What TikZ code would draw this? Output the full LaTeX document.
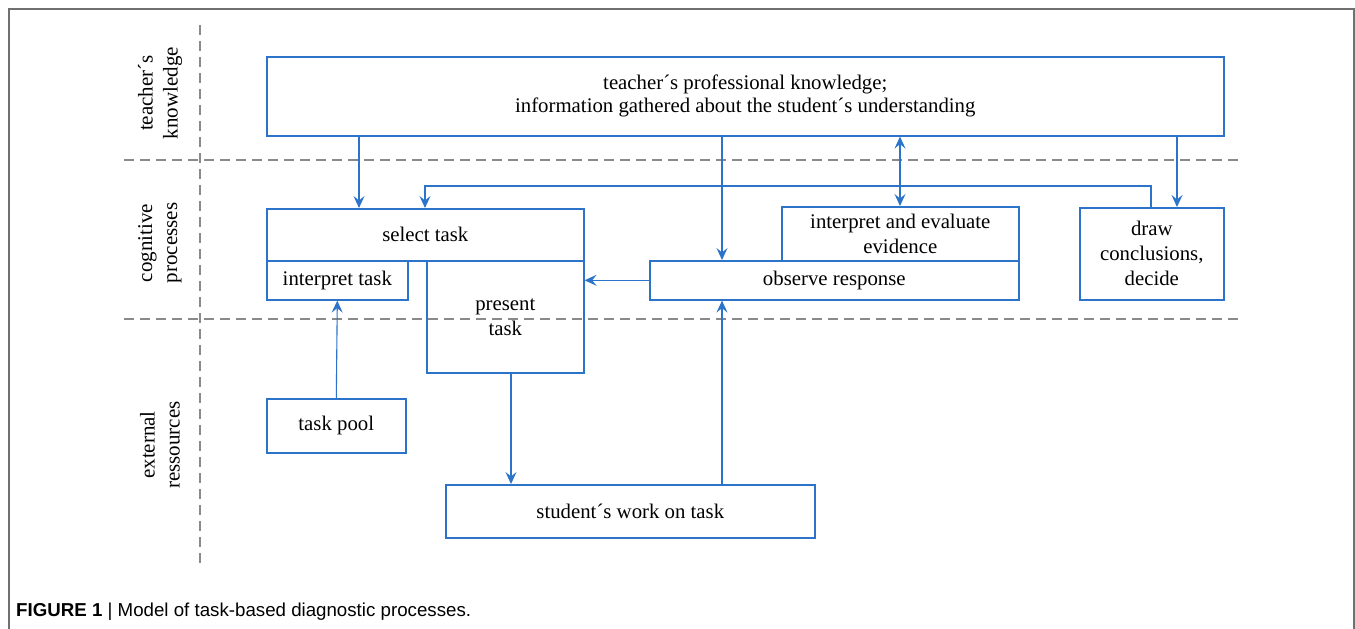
\documentclass[tikz,border=0pt]{standalone}
\usepackage{fontspec}
\setmainfont{Liberation Serif}
\newfontfamily\capfont{Liberation Sans}
\usepackage{tikz}
\usetikzlibrary{arrows.meta,positioning,calc}
\definecolor{boxcol}{HTML}{2B74C9}
\definecolor{lanecol}{HTML}{8A8A8A}
\definecolor{framecol}{HTML}{707070}

\tikzset{
  procbox/.style={draw=boxcol, line width=1.6pt, inner sep=0pt, align=center,
    anchor=north west, font=\fontsize{20.8}{25}\selectfont},
  flow/.style={-{Stealth[length=12pt,width=11pt,inset=4.5pt]}, boxcol, line width=1.1pt},
  laneline/.style={lanecol, line width=1.3pt, dash pattern=on 10pt off 6pt},
  lanelabel/.style={rotate=90, align=center, font=\fontsize{21}{25}\selectfont}
}

\begin{document}
\begin{tikzpicture}[x=1pt, y=-1pt]
\useasboundingbox (0,0) rectangle (1355,629);

% ------------------------------------------------------------ frame
\draw[framecol, line width=1.4pt] (9,640) -- (9,9) -- (1354,9) -- (1354,640);

% ------------------------------------------------------------ lanes
\draw[laneline] (200,25) -- (200,567);
\draw[laneline] (124,160) -- (1240,160);
\draw[laneline] (124,319) -- (1240,319);
\node[lanelabel] (lknow) at (160,93) {teacher´s\\knowledge};
\node[lanelabel] (lcogn) at (160,243) {cognitive\\processes};
\node[lanelabel] (lext)  at (160,445) {external\\ressources};

% ------------------------------------------------------------ boxes
\node[procbox, minimum width=957pt, minimum height=79pt,
  font=\fontsize{20.8}{23}\selectfont] (know) at (266,56)
  {teacher´s professional knowledge;\\information gathered about the student´s understanding};
\node[procbox, minimum width=317pt, minimum height=52pt] (sel) at (266,208) {select task};
\node[procbox, minimum width=141pt, minimum height=39pt] (interp) at (266,260) {interpret task};
\node[procbox, minimum width=157pt, minimum height=112pt] (pres) at (426,260) {present\\task};
\node[procbox, minimum width=369pt, minimum height=39pt] (obs) at (649,260) {observe response};
\node[procbox, minimum width=237pt, minimum height=54pt] (evid) at (781,206)
  {interpret and evaluate\\evidence};
\node[procbox, minimum width=144pt, minimum height=92pt] (concl) at (1079,207)
  {draw\\conclusions,\\decide};
\node[procbox, minimum width=139pt, minimum height=54pt] (pool) at (266,398) {task pool};
\node[procbox, minimum width=369pt, minimum height=53pt] (stud) at (445,484) {student´s work on task};

% ------------------------------------------------------------ connectors
\draw[flow] ([xshift=93pt]know.south west) -- ([xshift=93pt]sel.north west);
\draw[flow] ([xshift=456pt]know.south west) -- ([xshift=73pt]obs.north west);
\draw[flow, {Stealth[length=12pt,width=11pt,inset=4.5pt]}-{Stealth[length=12pt,width=11pt,inset=4.5pt]}]
  ([xshift=634pt]know.south west) -- ([xshift=119pt]evid.north west);
\draw[flow] ([xshift=911pt]know.south west) -- ([xshift=98pt]concl.north west);
\draw[flow] ([xshift=72pt]concl.north west) |- ([xshift=159pt,yshift=22pt]sel.north west)
  -- ([xshift=159pt]sel.north west);
\draw[flow] (obs.west) -- (obs.west -| pres.east);
\draw[flow] (pool.north) -- (interp.south);
\draw[flow] ([xshift=85pt]pres.south west) -- ([xshift=85pt]pres.south west |- stud.north);
\draw[flow] ([xshift=277pt]stud.north west) -- ([xshift=277pt]stud.north west |- obs.south);

% ------------------------------------------------------------ caption
\node[anchor=base west, inner sep=0pt, font=\capfont\fontsize{18.7}{22}\selectfont] (cap) at (16,616)
  {\textbf{FIGURE 1} | Model of task-based diagnostic processes.};
\end{tikzpicture}
\end{document}
